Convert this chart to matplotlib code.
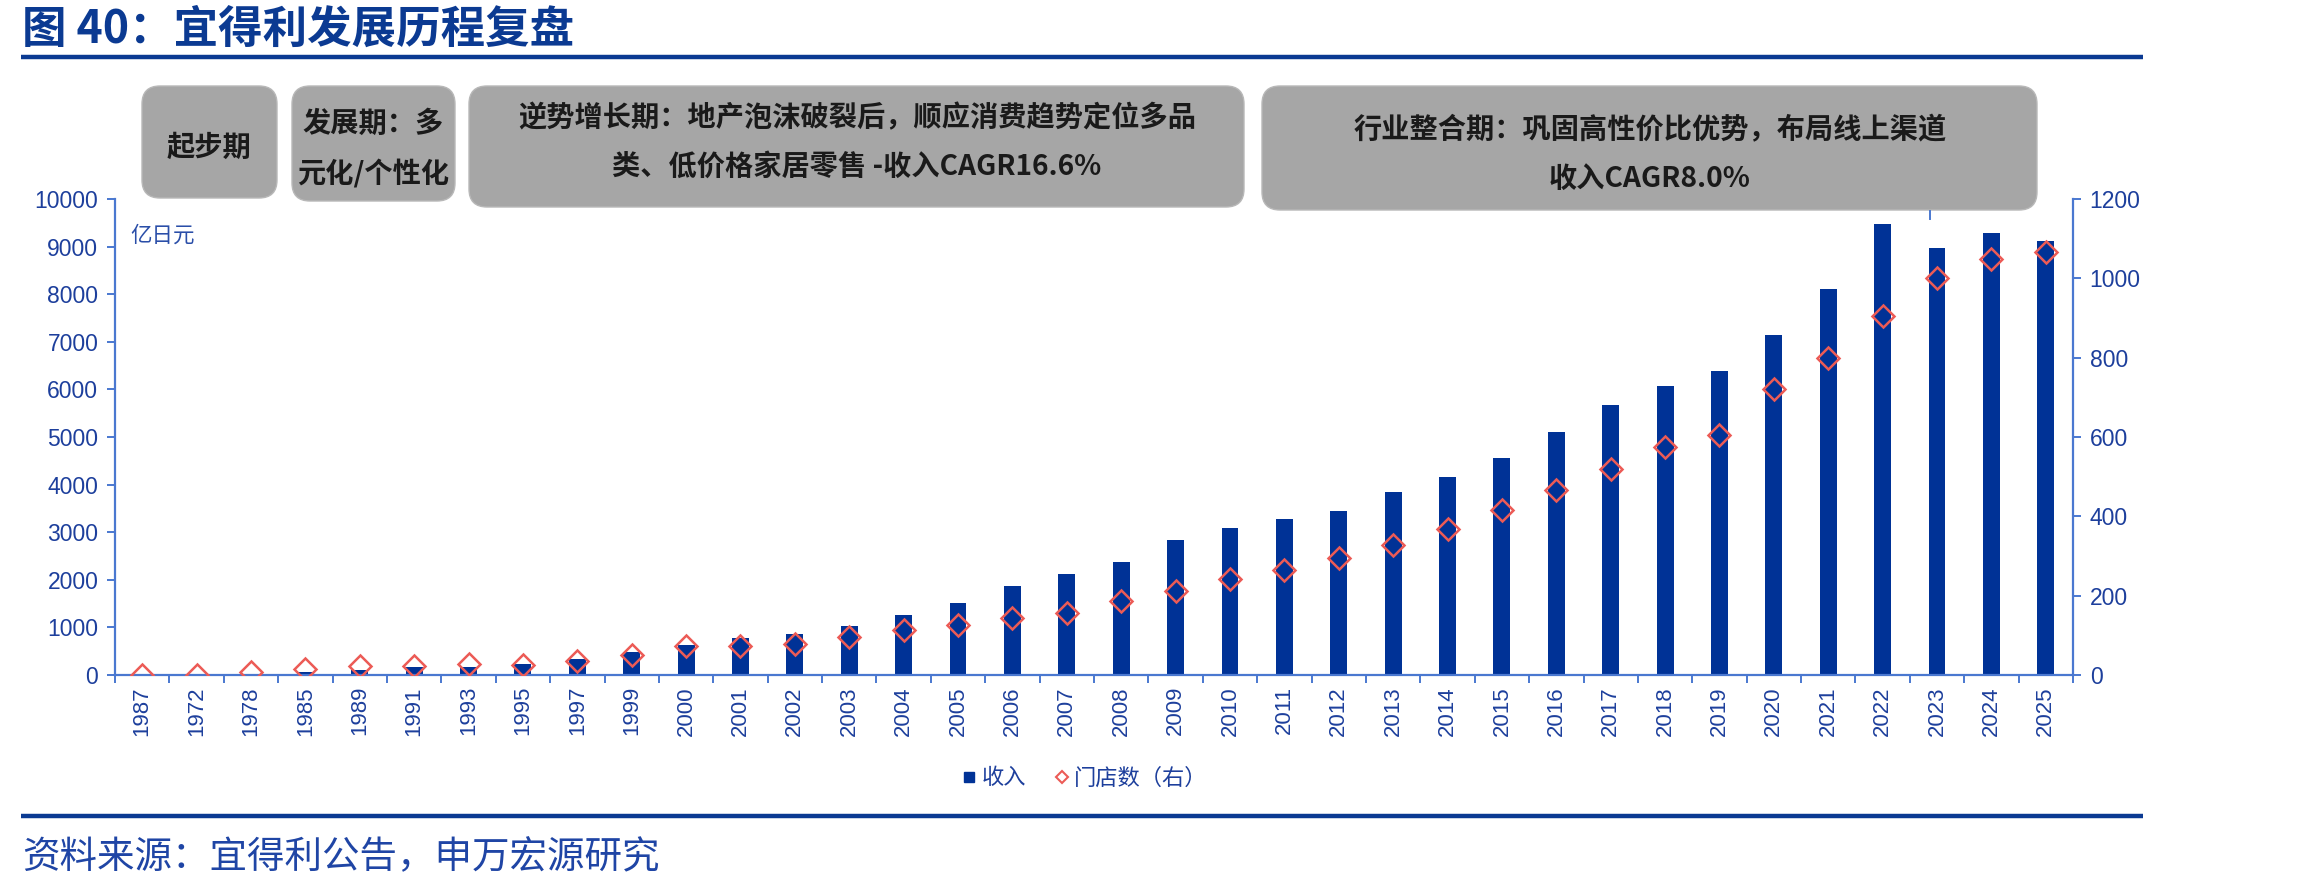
import matplotlib
matplotlib.use('Agg')
import matplotlib.pyplot as plt
from matplotlib.patches import FancyBboxPatch
from matplotlib.lines import Line2D

plt.rcParams['font.family'] = ['Noto Sans CJK SC', 'DejaVu Sans']

# ---------------- data ----------------
years = ['1987', '1972', '1978', '1985', '1989', '1991', '1993', '1995', '1997', '1999',
         '2000', '2001', '2002', '2003', '2004', '2005', '2006', '2007', '2008', '2009',
         '2010', '2011', '2012', '2013', '2014', '2015', '2016', '2017', '2018', '2019',
         '2020', '2021', '2022', '2023', '2024', '2025']
revenue = [0, 0, 5, 62, 105, 165, 168, 222, 327, 480,
           625, 775, 865, 1023, 1267, 1519, 1876, 2128, 2380, 2836,
           3088, 3284, 3439, 3845, 4154, 4560, 5113, 5674, 6064, 6380,
           7140, 8108, 9474, 8970, 9278, 9124]
stores = [0, 1, 7, 16, 22, 22, 28, 26, 36, 50,
          72, 72, 78, 97, 113, 126, 144, 156, 187, 211,
          241, 265, 296, 327, 369, 416, 466, 520, 575, 606,
          722, 800, 904, 1001, 1049, 1067]
left_ticks = [0, 1000, 2000, 3000, 4000, 5000, 6000, 7000, 8000, 9000, 10000]
right_ticks = [0, 200, 400, 600, 800, 1000, 1200]

title = '图 40：宜得利发展历程复盘'
source = '资料来源：宜得利公告，申万宏源研究'
unit_label = '亿日元'
series_names = ['收入', '门店数（右）']
phase_texts = ['起步期',
               '发展期：多\n元化/个性化',
               '逆势增长期：地产泡沫破裂后，顺应消费趋势定位多品\n类、低价格家居零售 -收入CAGR16.6%',
               '行业整合期：巩固高性价比优势，布局线上渠道\n收入CAGR8.0%']

# ---------------- style ----------------
W, H = 2314, 893
BAR = '#003296'
RED = '#ec5b56'
DARKBLUE = '#0b3a92'
TICKC = '#1d3f9c'
SPINE = '#4a78d0'
BOXC = '#a6a6a6'
NUM = ['Liberation Sans', 'DejaVu Sans']

fig = plt.figure(figsize=(W / 100, H / 100), dpi=100)
fig.patch.set_facecolor('white')

ax_l, ax_r, ax_t, ax_b = 115, 2073, 199, 675
ax = fig.add_axes([ax_l / W, 1 - ax_b / H, (ax_r - ax_l) / W, (ax_b - ax_t) / H])
x = list(range(len(years)))
ax.bar(x, revenue, width=0.31, color=BAR, zorder=2)
ax.set_xlim(-0.5, len(years) - 0.5)
ax.set_ylim(0, 10000)
ax.set_yticks(left_ticks)
ax.set_yticklabels([str(v) for v in left_ticks], fontsize=16.5, color=TICKC, family=NUM)
ax.set_xticks(x)
ax.set_xticklabels(years, rotation=90, fontsize=16, color=TICKC, family=NUM)
ax.set_xticks([i - 0.5 for i in range(len(years) + 1)], minor=True)
ax.tick_params(axis='x', which='major', length=0, pad=8)
ax.tick_params(axis='x', which='minor', length=6, width=1.4, color=SPINE, direction='out')
ax.tick_params(axis='y', length=6, width=1.4, color=SPINE, direction='out', pad=6)
for s in ['top', 'right']:
    ax.spines[s].set_visible(False)
for s in ['left', 'bottom']:
    ax.spines[s].set_color(SPINE)
    ax.spines[s].set_linewidth(1.6)

ax2 = ax.twinx()
ax2.plot(x, stores, linestyle='none', marker='D', markersize=11, markerfacecolor='none',
         markeredgecolor=RED, markeredgewidth=1.8, zorder=3)
ax2.set_ylim(0, 1200)
ax2.set_yticks(right_ticks)
ax2.set_yticklabels([str(v) for v in right_ticks], fontsize=16.5, color=TICKC, family=NUM)
ax2.tick_params(axis='y', length=6, width=1.4, color=SPINE, direction='out', pad=6)
for s in ['top', 'left', 'bottom']:
    ax2.spines[s].set_visible(False)
ax2.spines['right'].set_color(SPINE)
ax2.spines['right'].set_linewidth(1.6)

handles = [Line2D([], [], linestyle='none', marker='s', markersize=7, color=BAR),
           Line2D([], [], linestyle='none', marker='D', markersize=6.5, markerfacecolor='none',
                  markeredgecolor=RED, markeredgewidth=1.5)]
leg = fig.legend(handles, series_names, loc='center', bbox_to_anchor=(1085 / W, 1 - 778 / H),
                 ncol=2, frameon=False, fontsize=16, handlelength=0.6, handletextpad=0.25,
                 columnspacing=1.3)
for t in leg.get_texts():
    t.set_color(TICKC)

# ---------------- overlay in pixel coordinates ----------------
ov = fig.add_axes([0, 0, 1, 1], zorder=5)
ov.set_xlim(0, W)
ov.set_ylim(H, 0)
ov.axis('off')
ov.patch.set_visible(False)

ov.text(22, 30, title, fontsize=32, fontweight='bold', color=DARKBLUE, va='center', ha='left')
ov.plot([21, 2143], [57, 57], color=DARKBLUE, linewidth=3.2, solid_capstyle='butt')
ov.plot([21, 2143], [816, 816], color=DARKBLUE, linewidth=3.2, solid_capstyle='butt')
ov.text(22, 858, source, fontsize=27, color='#1f45a5', va='center', ha='left')
ov.text(130, 236, unit_label, fontsize=15.5, color='#2a4ea8', va='center', ha='left')
ov.plot([1930, 1930], [211, 219], color=SPINE, linewidth=1.4)

boxes = [(142, 86, 277, 198), (292, 86, 455, 201), (469, 86, 1244, 207), (1262, 86, 2037, 210)]
for (x0, y0, x1, y1), txt in zip(boxes, phase_texts):
    p = FancyBboxPatch((x0, y0), x1 - x0, y1 - y0,
                       boxstyle='round,pad=0,rounding_size=18',
                       facecolor=BOXC, edgecolor='#b8b8b8', linewidth=1.0)
    ov.add_patch(p)
lines_pos = [[(209, 148)], [(373, 124), (373, 173)], [(857, 118), (857, 167)],
             [(1650, 130), (1650, 179)]]
for txt, pos in zip(phase_texts, lines_pos):
    for line, (cx, cy) in zip(txt.split('\n'), pos):
        ov.text(cx, cy, line, fontsize=20.3, fontweight='bold', color='#1a1a1a',
                ha='center', va='center')

fig.savefig('out.png', dpi=100, facecolor='white')
